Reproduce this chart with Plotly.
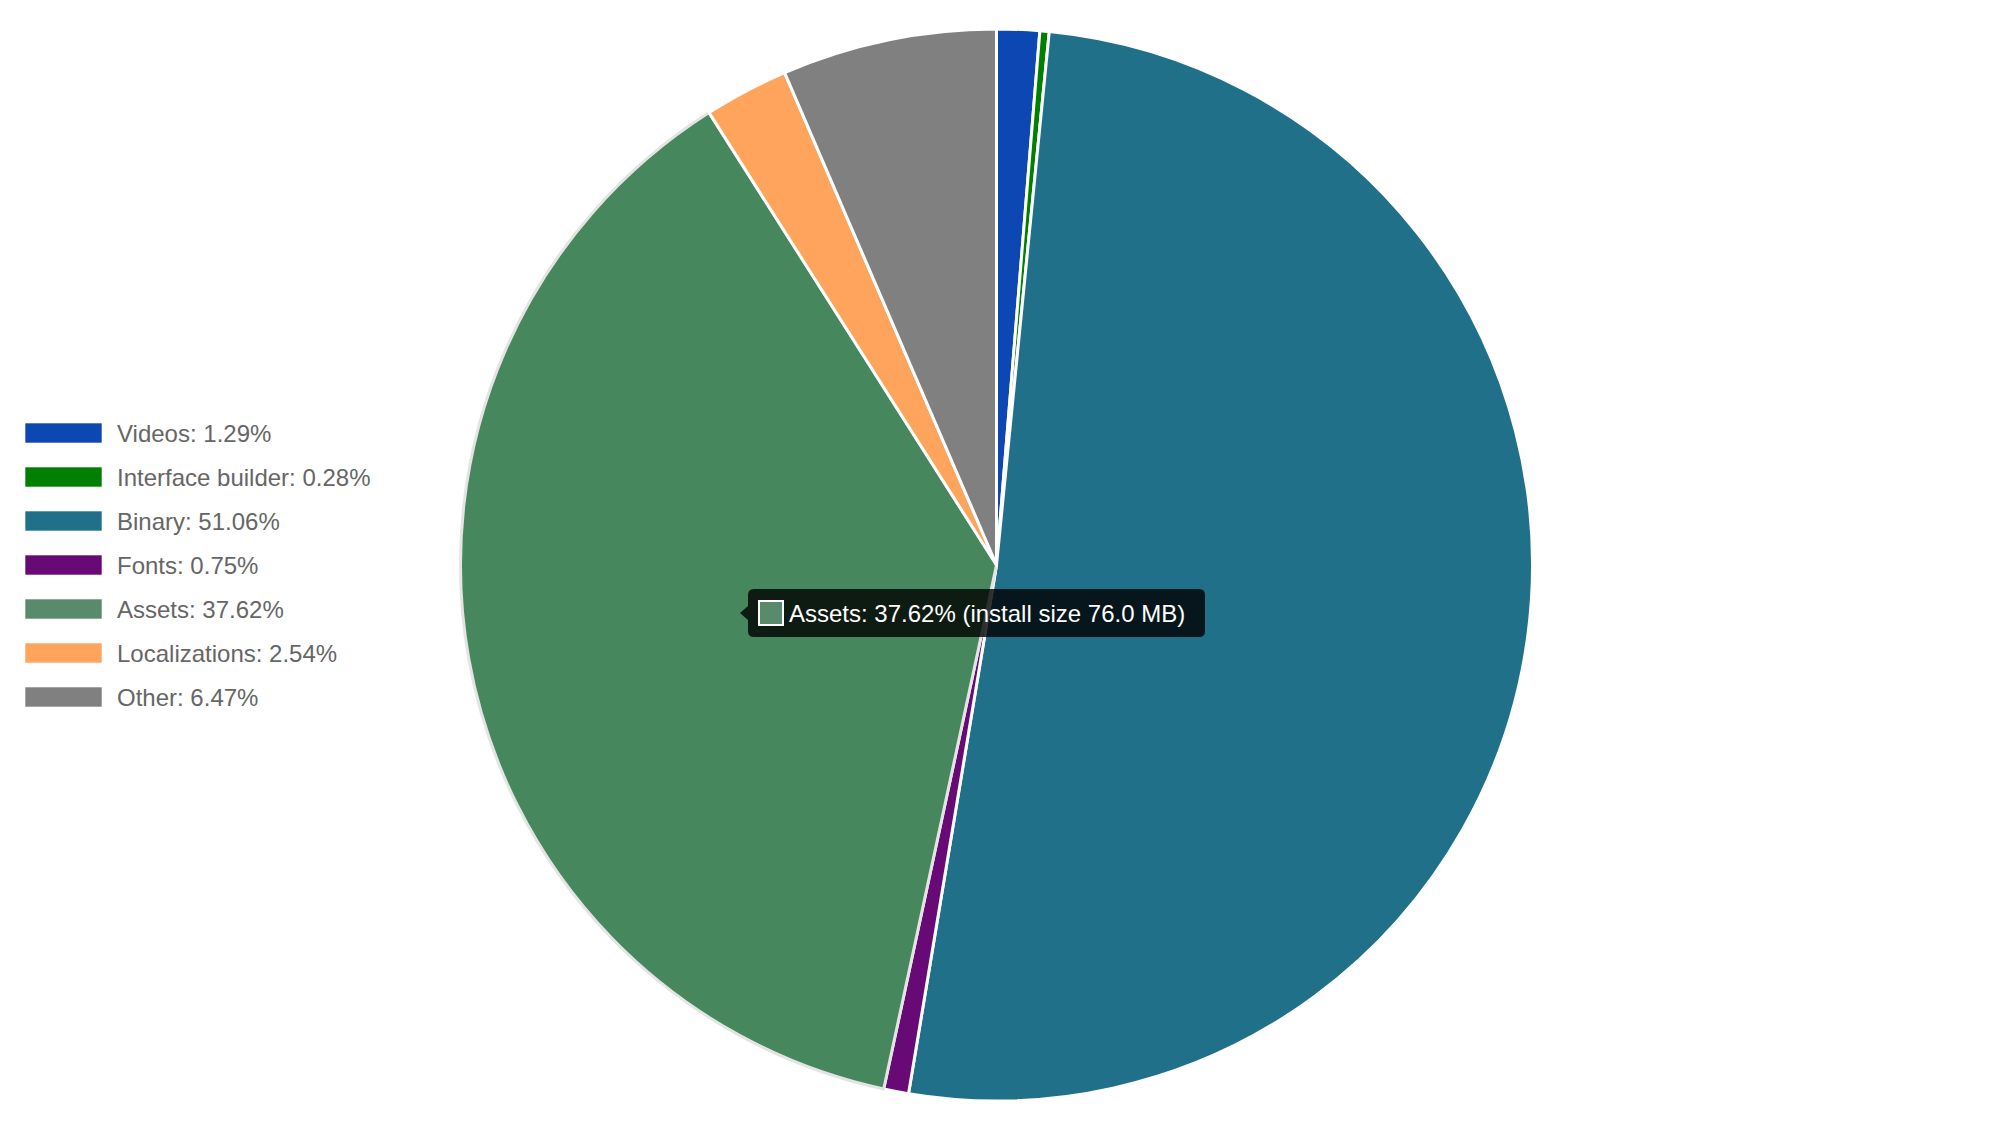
import plotly.graph_objects as go

W, H = 1997, 1140
OFF = 8  # default page body margin
FW, FH = W - 2 * OFF, H - 2 * OFF

labels = ["Videos", "Interface builder", "Binary", "Fonts", "Assets", "Localizations", "Other"]
values = [1.29, 0.28, 51.06, 0.75, 37.62, 2.54, 6.47]
slice_colors = ["#0d47b4", "#008000", "#21708a", "#670a75", "#46875d", "#ffa45c", "#808080"]
legend_colors = ["#0d47b4", "#008000", "#21708a", "#670a75", "#5a8a6c", "#ffa45c", "#808080"]
border_colors = ["#ffffff", "#ffffff", "#ffffff", "#ffffff", "#e4e4e4", "#ffffff", "#ffffff"]
hover_label = "Assets"
install_size = "76.0 MB"


def px(x):
    return (x - OFF) / FW


def py(y):
    return 1 - (y - OFF) / FH


cx, cy, r = 996.5, 565, 536

fig = go.Figure(go.Pie(
    labels=labels,
    values=values,
    sort=False,
    direction="clockwise",
    rotation=0,
    textinfo="none",
    hoverinfo="none",
    showlegend=False,
    marker=dict(colors=slice_colors, line=dict(color=border_colors, width=3)),
    domain=dict(x=[px(cx - r), px(cx + r)], y=[py(cy + r), py(cy - r)]),
))

shapes = []
annotations = []
font_family = "Liberation Sans, Arial, Helvetica, sans-serif"

# Legend (manual, to match wide rectangular swatches)
ly0, dy = 433, 44
for i, (lab, val, col) in enumerate(zip(labels, values, legend_colors)):
    yc = ly0 + i * dy
    shapes.append(dict(type="rect", xref="paper", yref="paper",
                       x0=px(25), x1=px(102), y0=py(yc - 10), y1=py(yc + 10),
                       fillcolor=col, line=dict(color="rgba(255,255,255,0.6)", width=1)))
    annotations.append(dict(xref="paper", yref="paper", x=px(115), y=py(yc),
                            xanchor="left", yanchor="middle", showarrow=False,
                            text=f"{lab}: {val:.2f}%",
                            font=dict(family=font_family, size=24, color="#666666")))

# Tooltip
hi = labels.index(hover_label)
bx0, bx1, by0, by1, rr = 748, 1205, 589, 637, 6
ty = 613
path = (f"M {px(bx0+rr)} {py(by0)} L {px(bx1-rr)} {py(by0)} "
        f"Q {px(bx1)} {py(by0)} {px(bx1)} {py(by0+rr)} L {px(bx1)} {py(by1-rr)} "
        f"Q {px(bx1)} {py(by1)} {px(bx1-rr)} {py(by1)} L {px(bx0+rr)} {py(by1)} "
        f"Q {px(bx0)} {py(by1)} {px(bx0)} {py(by1-rr)} L {px(bx0)} {py(ty+7)} "
        f"L {px(bx0-8)} {py(ty)} L {px(bx0)} {py(ty-7)} L {px(bx0)} {py(by0+rr)} "
        f"Q {px(bx0)} {py(by0)} {px(bx0+rr)} {py(by0)} Z")
shapes.append(dict(type="path", xref="paper", yref="paper", path=path,
                   fillcolor="rgba(0,0,0,0.8)", line=dict(width=0)))
shapes.append(dict(type="rect", xref="paper", yref="paper",
                   x0=px(759), x1=px(783), y0=py(601), y1=py(625),
                   fillcolor=legend_colors[hi], line=dict(color="#ffffff", width=2)))
annotations.append(dict(xref="paper", yref="paper", x=px(787), y=py(ty),
                        xanchor="left", yanchor="middle", showarrow=False,
                        text=f"{labels[hi]}: {values[hi]:.2f}% (install size {install_size})",
                        font=dict(family=font_family, size=24, color="#ffffff")))

fig.update_layout(
    width=FW, height=FH,
    margin=dict(l=0, r=0, t=0, b=0),
    paper_bgcolor="#ffffff", plot_bgcolor="#ffffff",
    shapes=shapes, annotations=annotations,
    showlegend=False,
)

fig.write_html("out.html")
